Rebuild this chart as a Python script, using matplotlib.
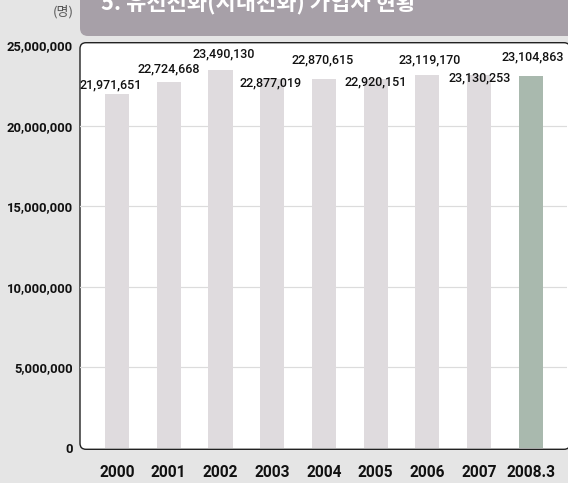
import matplotlib
matplotlib.use("Agg")
import matplotlib.pyplot as plt
from matplotlib.patches import FancyBboxPatch
from matplotlib.ticker import FuncFormatter

years = ["2000", "2001", "2002", "2003", "2004", "2005", "2006", "2007", "2008.3"]
subscribers = [21971651, 22724668, 23490130, 22877019, 22870615,
               22920151, 23119170, 23130253, 23104863]
y_ticks = [0, 5000000, 10000000, 15000000, 20000000, 25000000]
title = "5. 유선전화(시내전화) 가입자 현황"
unit = "(명)"

# value labels are staggered (px offsets from the bar top) so they don't collide
label_dx = [-6.5, 0, 3, -1.5, -1, 0, 2, 0, 2]
label_dy = [9, 12.5, 15.5, -3.3, 19.5, -3, 15.5, -2.4, 19]

BG = "#e5e5e5"
BAR = "#dfdbde"
BAR_LAST = "#a9b9ae"
HEADER = "#a7a0a8"

W, H = 568, 483
plt.rcParams["font.family"] = ["Roboto", "Noto Sans CJK KR", "DejaVu Sans"]

fig = plt.figure(figsize=(W / 72, H / 72), dpi=72, facecolor=BG)

# background layer in pixel units: header strip and rounded white panel
bg = fig.add_axes([0, 0, 1, 1], zorder=0)
bg.set_xlim(0, W)
bg.set_ylim(H, 0)
bg.axis("off")
bg.add_patch(FancyBboxPatch((80, -20), 530, 56, boxstyle="round,pad=0,rounding_size=8",
                            facecolor=HEADER, edgecolor="none"))
bg.add_patch(FancyBboxPatch((80, 42.7), 490, 406.6, boxstyle="round,pad=0,rounding_size=6",
                            facecolor="white", edgecolor="#222222", lw=1.4))
bg.text(101, 10, title, ha="left", va="baseline", color="white", fontsize=22,
        fontweight="bold", family=["Noto Sans CJK KR", "DejaVu Sans"])
bg.text(63, 12, unit, ha="center", va="center", color="#555555", fontsize=13,
        family=["Noto Sans CJK KR", "DejaVu Sans"])

ax = fig.add_axes([80 / W, (H - 449.3) / H, (567 - 80) / W, (449.3 - 42.7) / H], zorder=1)
ax.patch.set_visible(False)
for s in ax.spines.values():
    s.set_visible(False)

x = list(range(len(years)))
colors = [BAR] * (len(years) - 1) + [BAR_LAST]
ax.bar(x, subscribers, width=0.464, color=colors, zorder=2)

for v in y_ticks[1:-1]:
    ax.axhline(v, color="#dcdcdc", lw=1.2, zorder=1)

for i, v in enumerate(subscribers):
    ax.annotate(f"{v:,}", xy=(i, v), xytext=(label_dx[i], label_dy[i]),
                textcoords="offset points", ha="center", va="center",
                fontsize=12.5, fontweight="medium", color="#111111", zorder=3)

ax.set_xlim(-0.715, 8.696)
ax.set_ylim(-90000, 25155000)
ax.set_xticks(x)
ax.set_xticklabels(years)
ax.set_yticks(y_ticks)
ax.yaxis.set_major_formatter(FuncFormatter(lambda v, p: f"{int(v):,}"))
ax.tick_params(axis="both", length=0, colors="#111111")
ax.tick_params(axis="y", pad=7, labelsize=13)
ax.tick_params(axis="x", pad=16, labelsize=15.5)
for t in ax.get_xticklabels() + ax.get_yticklabels():
    t.set_fontweight("bold")

fig.savefig("out.png", dpi=72, facecolor=BG)
